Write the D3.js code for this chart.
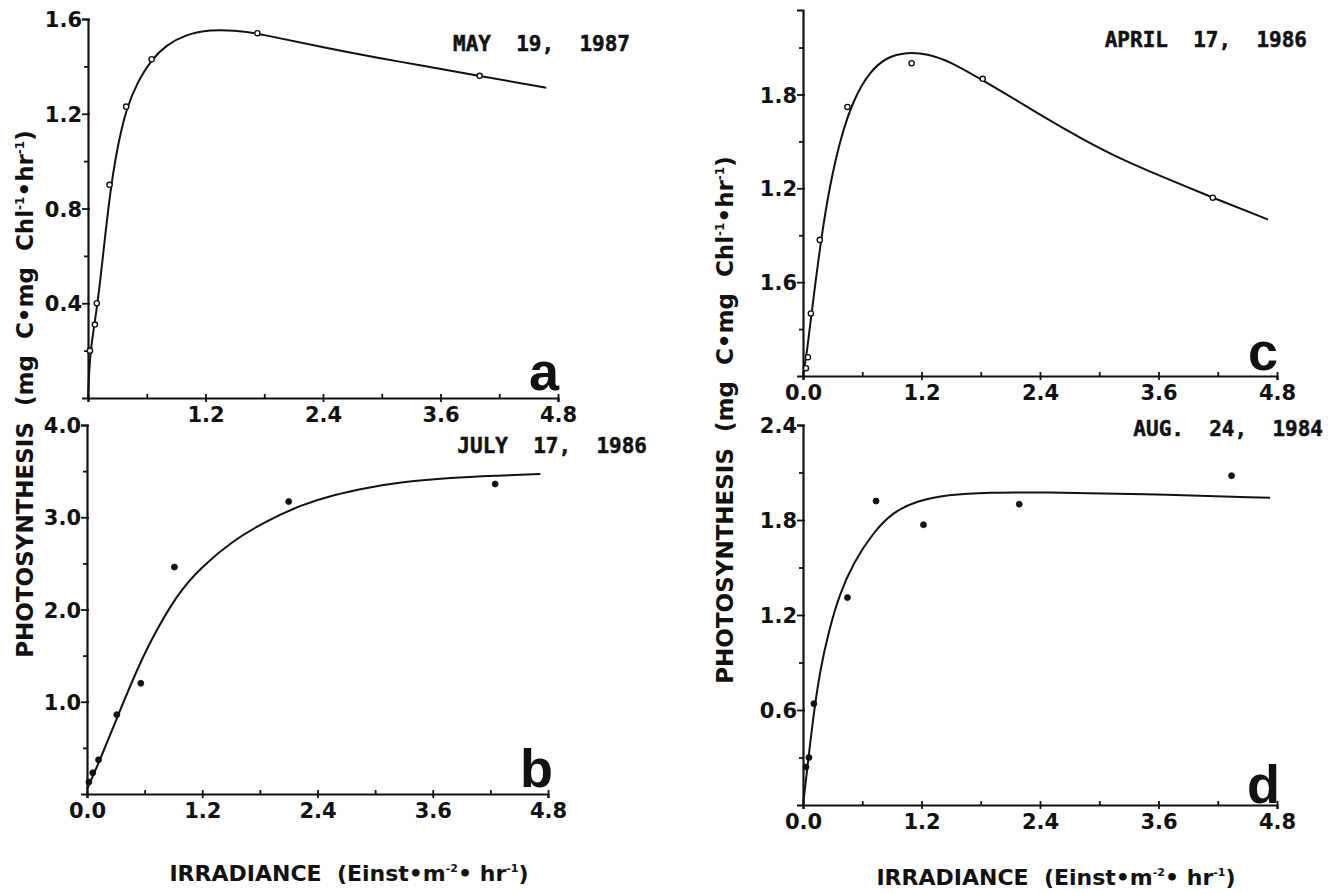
<!DOCTYPE html>
<html>
<head>
<meta charset="utf-8">
<script src="https://cdn.jsdelivr.net/npm/d3@7"></script>
<style>
  html, body { margin: 0; padding: 0; background: #fff; }
  svg { display: block; }
  text { fill: #111; }
</style>
</head>
<body>
<svg id="chart" width="1340" height="893"></svg>
<script>
// P-I curves, four sampling dates
var dates = ["MAY  19,  1987", "JULY  17,  1986", "APRIL  17,  1986", "AUG.  24,  1984"];
var panelLetters = ["a", "b", "c", "d"];

// measured points
var aIrr  = [0.02, 0.07, 0.09, 0.22, 0.39, 0.65, 1.73, 4.00];
var aPhot = [0.20, 0.31, 0.40, 0.90, 1.23, 1.43, 1.54, 1.36];
var bIrr  = [0.02, 0.06, 0.12, 0.31, 0.56, 0.91, 2.10, 4.25];
var bPhot = [0.13, 0.23, 0.37, 0.86, 1.20, 2.46, 3.17, 3.36];
var cIrr  = [0.03, 0.05, 0.08, 0.17, 0.45, 1.10, 1.82, 4.15];
var cPhot = [0.05, 0.12, 0.40, 0.87, 1.72, 2.00, 1.90, 1.14];
var dIrr  = [0.03, 0.06, 0.11, 0.45, 0.74, 1.22, 2.19, 4.34];
var dPhot = [0.24, 0.30, 0.64, 1.31, 1.92, 1.77, 1.90, 2.08];

// fitted curves
var aFitIrr  = [0, 0.02, 0.07, 0.12, 0.22, 0.30, 0.39, 0.50, 0.65, 0.80, 1.00, 1.25, 1.50, 1.73, 2.40, 3.17, 4.00, 4.68];
var aFitPhot = [0, 0.19, 0.32, 0.47, 0.86, 1.06, 1.22, 1.33, 1.43, 1.49, 1.535, 1.555, 1.552, 1.54, 1.48, 1.42, 1.36, 1.31];
var bFitIrr  = [0, 0.14, 0.31, 0.48, 0.66, 0.94, 1.18, 1.52, 1.87, 2.22, 2.56, 2.92, 3.26, 3.80, 4.25, 4.72];
var bFitPhot = [0.05, 0.38, 0.82, 1.25, 1.66, 2.17, 2.45, 2.75, 2.96, 3.13, 3.24, 3.32, 3.38, 3.43, 3.45, 3.47];
var cFitIrr  = [0, 0.04, 0.09, 0.19, 0.27, 0.37, 0.51, 0.68, 0.85, 1.05, 1.26, 1.49, 1.82, 2.17, 2.40, 2.84, 3.24, 3.69, 4.15, 4.71];
var cFitPhot = [0, 0.15, 0.42, 0.91, 1.21, 1.50, 1.77, 1.95, 2.04, 2.07, 2.06, 2.01, 1.89, 1.76, 1.67, 1.51, 1.38, 1.26, 1.14, 1.00];
var dFitIrr  = [0, 0.04, 0.09, 0.17, 0.27, 0.37, 0.51, 0.71, 0.91, 1.15, 1.46, 1.89, 2.40, 3.41, 4.73];
var dFitPhot = [0, 0.21, 0.49, 0.85, 1.12, 1.33, 1.53, 1.72, 1.85, 1.92, 1.96, 1.975, 1.975, 1.965, 1.94];

// axes
var xMax = 4.8;
var xMajor = [0, 1.2, 2.4, 3.6, 4.8];
var xMinor = [0.6, 1.8, 3.0, 4.2];
var xLabelsA = ["", "1.2", "2.4", "3.6", "4.8"];
var xLabels  = ["0.0", "1.2", "2.4", "3.6", "4.8"];

var yMaxA = 1.6,  yMajorA = [0.4, 0.8, 1.2, 1.6], yMinorA = [0.2, 0.6, 1.0, 1.4], yLabelsA = ["0.4", "0.8", "1.2", "1.6"];
var yMaxB = 4.0,  yMajorB = [1, 2, 3, 4],         yMinorB = [0.5, 1.5, 2.5, 3.5], yLabelsB = ["1.0", "2.0", "3.0", "4.0"];
var yMaxC = 2.34, yMajorC = [0.6, 1.2, 1.8],      yMinorC = [0.3, 0.9, 1.5, 2.1], yLabelsC = ["1.6", "1.2", "1.8"];
var yMaxD = 2.4,  yMajorD = [0.6, 1.2, 1.8, 2.4], yMinorD = [0.3, 0.9, 1.5, 2.1], yLabelsD = ["0.6", "1.2", "1.8", "2.4"];

(function () {
  "use strict";

  var svg = d3.select("#chart");
  var INK = "#111";
  var TICK_FONT = "'DejaVu Sans', sans-serif";

  // frame of each panel in page pixels
  var panels = [
    { left: 88,  right: 558,  bottom: 398, top: 19, yMax: yMaxA, yMajor: yMajorA, yMinor: yMinorA, yLabels: yLabelsA, xLabels: xLabelsA,
      irr: aIrr, phot: aPhot, fitIrr: aFitIrr, fitPhot: aFitPhot, open: true,
      dateX: 630, dateY: 51, letterX: 559, letterY: 390 },
    { left: 87,  right: 548,  bottom: 794, top: 425, yMax: yMaxB, yMajor: yMajorB, yMinor: yMinorB, yLabels: yLabelsB, xLabels: xLabels,
      irr: bIrr, phot: bPhot, fitIrr: bFitIrr, fitPhot: bFitPhot, open: false,
      dateX: 647, dateY: 453, letterX: 553, letterY: 787 },
    { left: 803, right: 1277, bottom: 376, top: 10, yMax: yMaxC, yMajor: yMajorC, yMinor: yMinorC, yLabels: yLabelsC, xLabels: xLabels,
      irr: cIrr, phot: cPhot, fitIrr: cFitIrr, fitPhot: cFitPhot, open: true,
      dateX: 1307, dateY: 47, letterX: 1278, letterY: 370 },
    { left: 803, right: 1277, bottom: 805, top: 425, yMax: yMaxD, yMajor: yMajorD, yMinor: yMinorD, yLabels: yLabelsD, xLabels: xLabels,
      irr: dIrr, phot: dPhot, fitIrr: dFitIrr, fitPhot: dFitPhot, open: false,
      dateX: 1323, dateY: 436, letterX: 1280, letterY: 803 }
  ];

  panels.forEach(function (p, i) { drawPanel(p, i); });

  function drawPanel(p, i) {
    var x = d3.scaleLinear().domain([0, xMax]).range([p.left, p.right]);
    var y = d3.scaleLinear().domain([0, p.yMax]).range([p.bottom, p.top]);
    var g = svg.append("g").attr("class", "panel panel-" + panelLetters[i]);

    // ── x axis ──────────────────────────────────────────────
    var xAx = g.append("g")
      .attr("transform", "translate(0," + p.bottom + ")")
      .call(d3.axisBottom(x).tickValues(xMajor).tickSizeOuter(0).tickSize(4)
        .tickFormat(function (d, k) { return p.xLabels[k]; }));
    xAx.selectAll(".tick line").attr("y1", -4).attr("y2", 4);
    g.append("g")
      .attr("transform", "translate(0," + p.bottom + ")")
      .call(d3.axisBottom(x).tickValues(xMinor).tickSizeOuter(0).tickSize(-4).tickFormat(""))
      .select(".domain").remove();

    // ── y axis ──────────────────────────────────────────────
    var yAx = g.append("g")
      .attr("transform", "translate(" + p.left + ",0)")
      .call(d3.axisLeft(y).tickValues(p.yMajor).tickSizeOuter(0).tickSize(6)
        .tickFormat(function (d, k) { return p.yLabels[k]; }));
    yAx.selectAll(".tick line").attr("x1", -6).attr("x2", 2);
    g.append("g")
      .attr("transform", "translate(" + p.left + ",0)")
      .call(d3.axisLeft(y).tickValues(p.yMinor).tickSizeOuter(0).tickSize(4).tickFormat(""))
      .select(".domain").remove();

    g.selectAll(".domain").attr("stroke", INK).attr("stroke-width", 2.2);
    g.selectAll(".tick line").attr("stroke", INK).attr("stroke-width", 1.8);
    g.selectAll(".tick text")
      .attr("fill", INK)
      .attr("font-family", TICK_FONT)
      .attr("font-weight", "bold")
      .style("font-size", "21px");
    xAx.selectAll(".tick text").attr("dy", "0.9em").attr("y", 5);
    yAx.selectAll(".tick text").attr("x", -6).attr("dy", "0.36em");

    // ── fitted curve ────────────────────────────────────────
    var fit = p.fitIrr.map(function (v, k) { return [v, p.fitPhot[k]]; });
    g.append("path")
      .datum(fit)
      .attr("fill", "none")
      .attr("stroke", INK)
      .attr("stroke-width", 2)
      .attr("stroke-linejoin", "round")
      .attr("d", d3.line()
        .x(function (d) { return x(d[0]); })
        .y(function (d) { return y(d[1]); })
        .curve(d3.curveBasis));

    // ── observations ────────────────────────────────────────
    var obs = p.irr.map(function (v, k) { return [v, p.phot[k]]; });
    g.append("g").selectAll("circle")
      .data(obs)
      .join("circle")
      .attr("cx", function (d) { return x(d[0]); })
      .attr("cy", function (d) { return y(d[1]); })
      .attr("r", p.open ? 2.6 : 3)
      .attr("fill", p.open ? "#fff" : INK)
      .attr("stroke", INK)
      .attr("stroke-width", p.open ? 1.4 : 0.8);

    // ── date and panel letter ───────────────────────────────
    g.append("text")
      .attr("x", p.dateX).attr("y", p.dateY)
      .attr("text-anchor", "end")
      .attr("font-family", "'DejaVu Sans Mono', monospace")
      .attr("font-weight", "bold")
      .attr("font-size", "21px")
      .attr("stroke", INK)
      .attr("stroke-width", 0.5)
      .style("white-space", "pre")
      .text(dates[i]);

    g.append("text")
      .attr("x", p.letterX).attr("y", p.letterY)
      .attr("text-anchor", "end")
      .attr("font-family", "'Liberation Sans', Arial, sans-serif")
      .attr("font-weight", "bold")
      .attr("font-size", "54px")
      .text(panelLetters[i]);
  }

  // ── axis titles ───────────────────────────────────────────
  function yTitle(cx, cy) {
    var t = svg.append("text")
      .attr("transform", "translate(" + cx + "," + cy + ") rotate(-90)")
      .attr("text-anchor", "middle")
      .attr("font-family", TICK_FONT)
      .attr("font-weight", "bold")
      .attr("font-size", "23px")
      .style("white-space", "pre");
    t.append("tspan").text("PHOTOSYNTHESIS  (mg  C\u2022mg  Chl");
    t.append("tspan").attr("font-size", "12px").attr("dy", "-9").text("-1");
    t.append("tspan").attr("dy", "9").text("\u2022hr");
    t.append("tspan").attr("font-size", "12px").attr("dy", "-9").text("-1");
    t.append("tspan").attr("dy", "9").text(")");
  }

  function xTitle(cx, cy) {
    var t = svg.append("text")
      .attr("x", cx).attr("y", cy)
      .attr("text-anchor", "middle")
      .attr("font-family", TICK_FONT)
      .attr("font-weight", "bold")
      .attr("font-size", "22px")
      .style("white-space", "pre");
    t.append("tspan").text("IRRADIANCE  (Einst\u2022m");
    t.append("tspan").attr("font-size", "11px").attr("dy", "-9").text("-2");
    t.append("tspan").attr("dy", "9").text("\u2022 hr");
    t.append("tspan").attr("font-size", "11px").attr("dy", "-9").text("-1");
    t.append("tspan").attr("dy", "9").text(")");
  }

  yTitle(33, 394);
  yTitle(733, 420);
  xTitle(349, 881);
  xTitle(1056, 885);
})();
</script>
</body>
</html>
